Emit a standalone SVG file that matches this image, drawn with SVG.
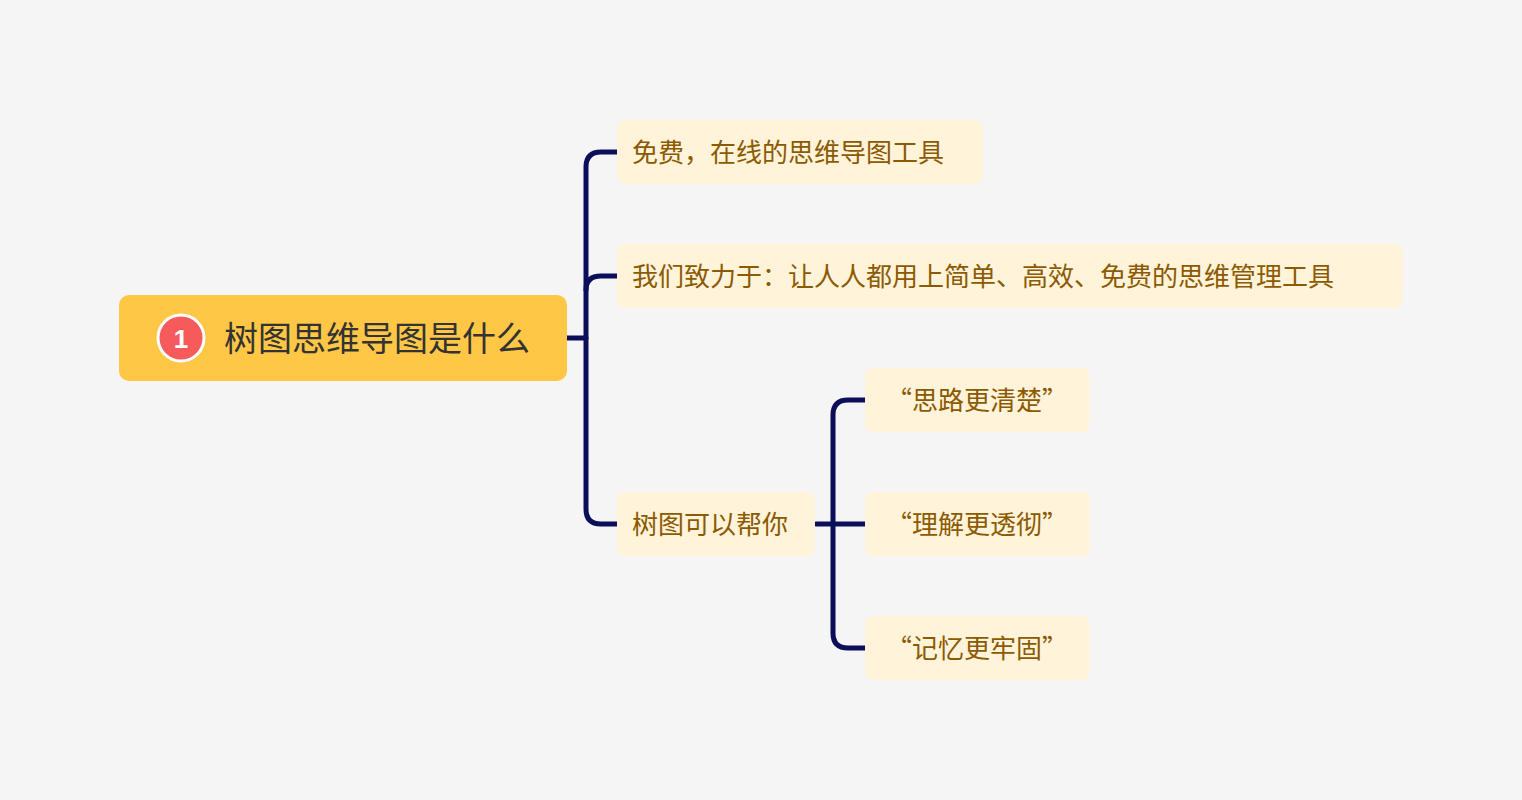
<svg xmlns="http://www.w3.org/2000/svg" width="1522" height="800" viewBox="0 0 1522 800">
<style>
.t{font-family:"Noto Sans CJK SC","Noto Sans",sans-serif;font-size:26px;fill:#8c5a00;dominant-baseline:central}
.b{fill:#fff3da}
.c{fill:none;stroke:#0b0f5a;stroke-width:5;stroke-linecap:round}
</style>
<rect width="1522" height="800" fill="#f5f5f5"/>
<g id="connectors">
<path class="c" d="M567 338H586"/>
<path class="c" d="M617 152H601Q586 152 586 167V509Q586 524 601 524H617"/>
<path class="c" d="M586 290Q586 276 601 276H617"/>
<path class="c" d="M816 524H865"/>
<path class="c" d="M865 400H848Q833 400 833 415V633Q833 648 848 648H865"/>
</g>
<g id="root">
<rect x="119" y="295" width="448" height="86" rx="10" fill="#ffc745"/>
<circle cx="181" cy="338" r="23" fill="#f65a5a" stroke="#fff" stroke-width="3"/>
<text x="181" y="339" text-anchor="middle" font-family="Liberation Sans,sans-serif" font-weight="bold" font-size="26" fill="#fff" dominant-baseline="central">1</text>
<text x="224" y="336" font-family="Noto Sans CJK SC,sans-serif" font-size="34" fill="#333" dominant-baseline="central">树图思维导图是什么</text>
</g>
<g id="n1"><rect class="b" x="617" y="120" width="366" height="64" rx="8"/><text class="t" x="632" y="150">免费，在线的思维导图工具</text></g>
<g id="n2"><rect class="b" x="617" y="244" width="786" height="64" rx="8"/><text class="t" x="632" y="274">我们致力于：让人人都用上简单、高效、免费的思维管理工具</text></g>
<g id="n3"><rect class="b" x="617" y="492" width="198" height="64" rx="8"/><text class="t" x="632" y="522">树图可以帮你</text></g>
<g id="n4"><rect class="b" x="865" y="368" width="225" height="64" rx="8"/><text class="t" x="977" y="398" text-anchor="middle">“思路更清楚”</text></g>
<g id="n5"><rect class="b" x="865" y="492" width="225" height="64" rx="8"/><text class="t" x="977" y="522" text-anchor="middle">“理解更透彻”</text></g>
<g id="n6"><rect class="b" x="865" y="616" width="225" height="64" rx="8"/><text class="t" x="977" y="646" text-anchor="middle">“记忆更牢固”</text></g>
</svg>
